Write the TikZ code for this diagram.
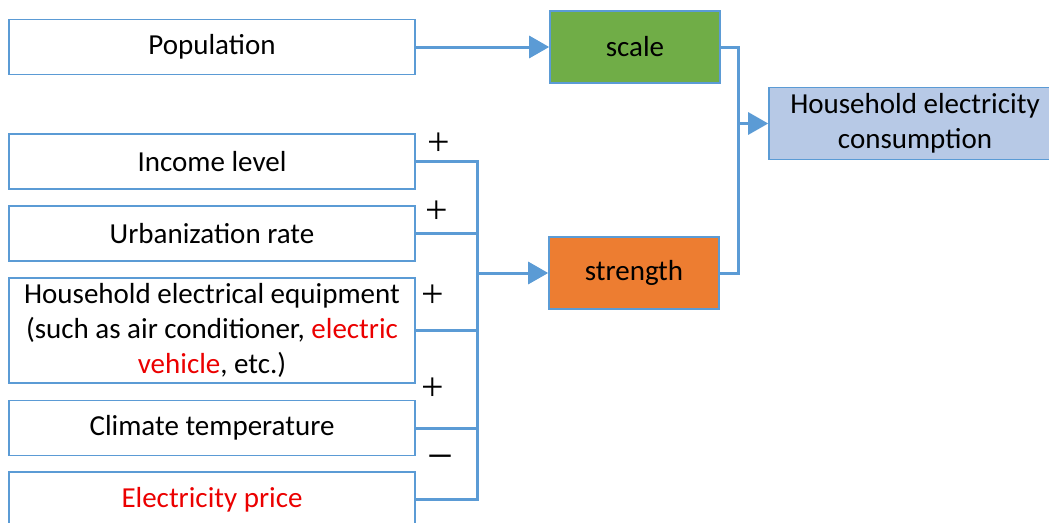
\documentclass[tikz,border=0pt]{standalone}
\usepackage{fontspec}
\setmainfont{Carlito}
\newfontfamily\sgnfont{Liberation Serif}
\usetikzlibrary{arrows.meta}
\definecolor{figline}{RGB}{91,155,213}
\definecolor{figgreen}{RGB}{112,173,71}
\definecolor{figorange}{RGB}{237,125,49}
\definecolor{figpale}{RGB}{183,201,230}
\definecolor{figred}{RGB}{235,0,0}
\newcommand{\lW}{406}
\newcommand{\lH}{55}
\newcommand{\lX}{212}
\newcommand{\busX}{477}
\tikzset{
  fgbox/.style  ={draw=figline,line width=1.6pt,inner sep=0pt,align=center,font=\fontsize{29}{35}\selectfont},
  lbox/.style   ={fgbox,minimum width=\lW pt,minimum height=\lH pt},
  cbox/.style   ={fgbox,minimum width=170pt,minimum height=72pt},
  fgline/.style ={draw=figline,line width=3pt,line cap=rect},
  fgarr/.style  ={fgline,-{Triangle[length=20pt,width=22pt]}},
  sgn/.style    ={inner sep=0pt,font=\sgnfont\fontsize{40}{40}\selectfont},
}

\begin{document}
\begin{tikzpicture}[x=1pt,y=-1pt]
  \useasboundingbox (0,0) rectangle (1049,522);
  % factors on the left
  \node[lbox] (pop)   at (\lX,47)    {Population};
  \node[lbox] (inc)   at (\lX,161.5) {Income level};
  \node[lbox] (urb)   at (\lX,233.5) {Urbanization rate};
  \node[lbox,minimum height=105pt] (equip) at (\lX,330.5)
    {Household electrical equipment\\(such as air conditioner, \textcolor{figred}{electric}\\\textcolor{figred}{vehicle}, etc.)};
  \node[lbox] (clim)  at (\lX,428)   {Climate temperature};
  \node[lbox] (price) at (\lX,499.5) {\textcolor{figred}{Electricity price}};
  % middle and result
  \node[cbox,fill=figgreen]  (scale)    at (635,47)  {scale};
  \node[cbox,fill=figorange] (strength) at (634,273) {strength};
  \node[fgbox,fill=figpale,minimum width=292pt,minimum height=72pt] (hec) at (915,123.5)
    {Household electricity\\consumption};
  \coordinate (busx)  at (\busX,273);
  \coordinate (merge) at (738,123.5);
  \draw[fgarr] (pop) -- (scale);
  \foreach \n in {inc,urb,equip,clim,price}
    \draw[fgline] (\n.east) -- (\n.east -| busx);
  \draw[fgline] (inc.east -| busx) -- (price.east -| busx);
  \draw[fgarr] (busx) -- (strength);
  \draw[fgline] (scale.east) -| (merge) |- (strength.east);
  \draw[fgarr] (merge) -- (hec);
  % signs of the effects
  \node[sgn] (sinc)   at (439,144) {+};
  \node[sgn] (surb)   at (437,212) {+};
  \node[sgn] (sequip) at (433,296) {+};
  \node[sgn] (sclim)  at (433,389) {+};
  \node[sgn,font=\sgnfont\fontsize{46}{46}\selectfont] (sprice) at (440,463) {−};
\end{tikzpicture}
\end{document}
